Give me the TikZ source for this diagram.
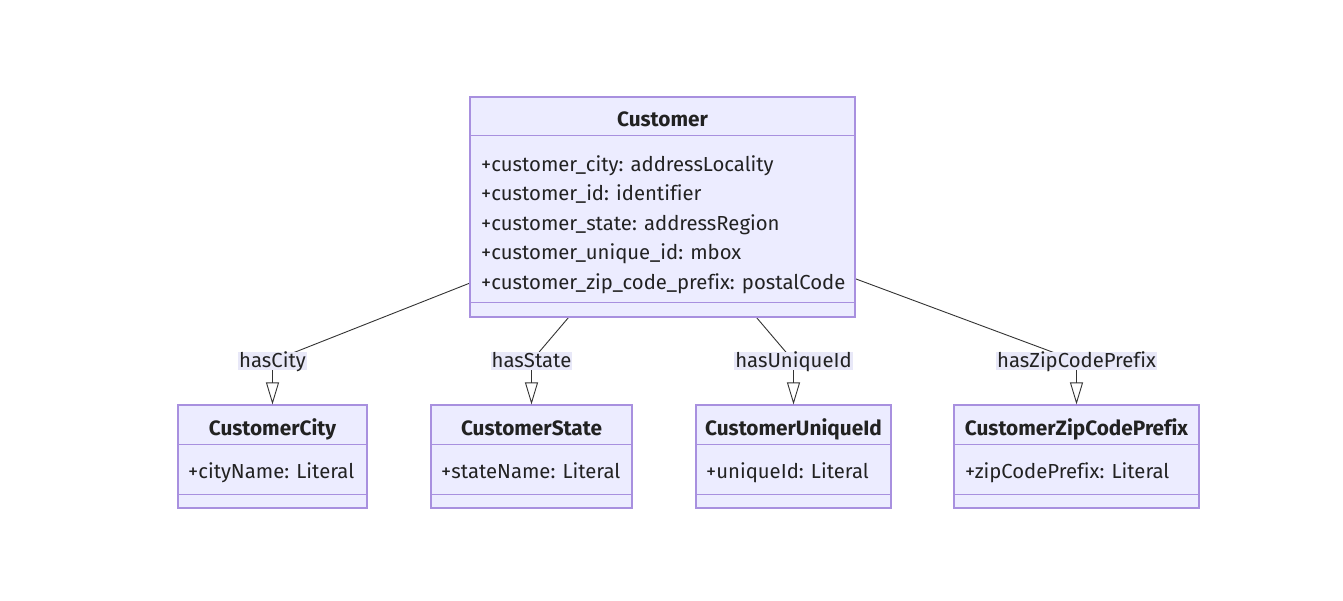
\documentclass[tikz,border=0pt]{standalone}
\usepackage{fontspec}
\setmainfont{Fira Sans}[Ligatures=NoCommon]
\usetikzlibrary{arrows.meta,backgrounds}
\definecolor{boxfill}{HTML}{ECECFF}
\definecolor{boxline}{HTML}{A890DF}
\definecolor{edgecol}{HTML}{333333}
\definecolor{labfill}{HTML}{E8E8F8}
\definecolor{txt}{HTML}{222222}
\begin{document}
\begin{tikzpicture}[x=1pt,y=-1pt,
  classbox/.style={draw=boxline, fill=boxfill, line width=1.2pt, inner sep=0pt},
  ctitle/.style={font=\fontsize{20.8}{24}\selectfont\bfseries, text=txt, inner sep=0pt, text height=14pt, text depth=0pt},
  attr/.style={font=\fontsize{20.3}{24}\selectfont, anchor=west, inner sep=0pt, text=txt, text height=14pt, text depth=0pt},
  sepline/.style={draw=boxline, line width=1.2pt},
  elabel/.style={fill=labfill, font=\fontsize{20.3}{24}\selectfont, text=txt, inner xsep=1pt, inner ysep=0pt, minimum height=18pt, text height=15pt, text depth=3pt},
  conn/.style={draw=edgecol, line width=0.9pt},
  gen/.style={conn, -{Triangle[open, length=22pt, width=13pt, line width=0.9pt]}}
]
\useasboundingbox (0,0) rectangle (1343,600);

% Customer
\node[classbox, minimum width=385pt, minimum height=220pt] (cust) at (662.5,207) {};
\draw[sepline] ([yshift=-39pt]cust.north west) -- ([yshift=-39pt]cust.north east);
\draw[sepline] ([yshift=15pt]cust.south west) -- ([yshift=15pt]cust.south east);
\node[ctitle] (custT) at (662.5,119) {Customer};
\node[attr] (ca1) at (481,164) {+customer\_city: addressLocality};
\node[attr] (ca2) at (481,193.5) {+customer\_id: identifier};
\node[attr] (ca3) at (481,223) {+customer\_state: addressRegion};
\node[attr] (ca4) at (481,252.5) {+customer\_unique\_id: mbox};
\node[attr] (ca5) at (481,282) {+customer\_zip\_code\_prefix: postalCode};

% CustomerCity
\node[classbox, minimum width=189pt, minimum height=103pt] (city) at (272.5,456.5) {};
\draw[sepline] ([yshift=-40pt]city.north west) -- ([yshift=-40pt]city.north east);
\draw[sepline] ([yshift=14pt]city.south west) -- ([yshift=14pt]city.south east);
\node[ctitle] (cityT) at (272.5,428) {CustomerCity};
\node[attr] (cityA) at (188,471.5) {+cityName: Literal};

% CustomerState
\node[classbox, minimum width=201pt, minimum height=103pt] (state) at (531.5,456.5) {};
\draw[sepline] ([yshift=-40pt]state.north west) -- ([yshift=-40pt]state.north east);
\draw[sepline] ([yshift=14pt]state.south west) -- ([yshift=14pt]state.south east);
\node[ctitle] (stateT) at (531.5,428) {CustomerState};
\node[attr] (stateA) at (441,471.5) {+stateName: Literal};

% CustomerUniqueId
\node[classbox, minimum width=195pt, minimum height=103pt] (uid) at (793.5,456.5) {};
\draw[sepline] ([yshift=-40pt]uid.north west) -- ([yshift=-40pt]uid.north east);
\draw[sepline] ([yshift=14pt]uid.south west) -- ([yshift=14pt]uid.south east);
\node[ctitle] (uidT) at (793.5,428) {CustomerUniqueId};
\node[attr] (uidA) at (706,471.5) {+uniqueId: Literal};

% CustomerZipCodePrefix
\node[classbox, minimum width=245pt, minimum height=103pt] (zip) at (1076.5,456.5) {};
\draw[sepline] ([yshift=-40pt]zip.north west) -- ([yshift=-40pt]zip.north east);
\draw[sepline] ([yshift=14pt]zip.south west) -- ([yshift=14pt]zip.south east);
\node[ctitle] (zipT) at (1076.5,428) {CustomerZipCodePrefix};
\node[attr] (zipA) at (965,471.5) {+zipCodePrefix: Literal};

% edge labels
\node[elabel] (lCity) at (272.5,361) {hasCity};
\node[elabel] (lState) at (531.5,361) {hasState};
\node[elabel] (lUid) at (793.5,361) {hasUniqueId};
\node[elabel] (lZip) at (1076.5,361) {hasZipCodePrefix};

\begin{scope}[on background layer]
\fill[white] (0,0) rectangle (1343,600);
\draw[conn] (cust.center) -- (lCity.center);
\draw[conn] (cust.center) -- (lState.center);
\draw[conn] (cust.center) -- (lUid.center);
\draw[conn] (cust.center) -- (lZip.center);
\end{scope}

\draw[gen] (lCity) -- (city);
\draw[gen] (lState) -- (state);
\draw[gen] (lUid) -- (uid);
\draw[gen] (lZip) -- (zip);
\end{tikzpicture}
\end{document}
